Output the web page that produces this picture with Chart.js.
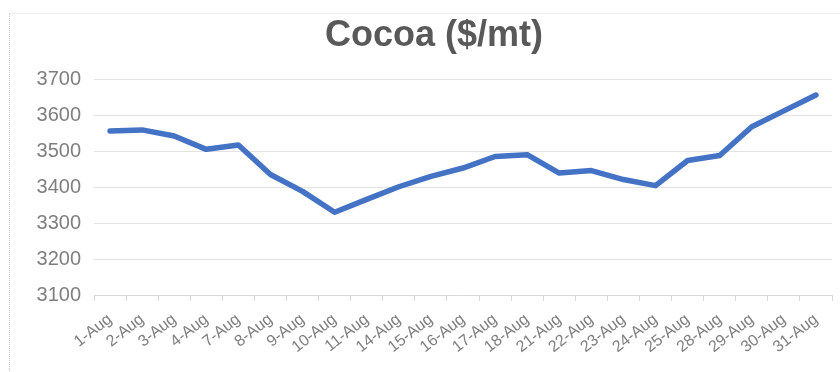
<!DOCTYPE html>
<html>
<head>
<meta charset="utf-8">
<script src="https://cdn.jsdelivr.net/npm/chart.js@4/dist/chart.umd.min.js"></script>
<style>
  html, body { margin: 0; padding: 0; background: #ffffff; }
  #wrap { position: relative; width: 840px; height: 372px; overflow: hidden; }
  #frame { position: absolute; left: 9px; top: 13px; width: 840px; height: 372px;
           border-top: 1px solid #ececec; border-left: 1px dotted #c8c8c8; box-sizing: border-box; }
  canvas { position: absolute; left: 0; top: 0; }
</style>
</head>
<body>
<div id="wrap">
  <div id="frame"></div>
  <canvas id="c" width="840" height="372"></canvas>
</div>
<script>
const categories = ["1-Aug","2-Aug","3-Aug","4-Aug","7-Aug","8-Aug","9-Aug","10-Aug","11-Aug","14-Aug","15-Aug","16-Aug","17-Aug","18-Aug","21-Aug","22-Aug","23-Aug","24-Aug","25-Aug","28-Aug","29-Aug","30-Aug","31-Aug"];
const cocoaPrices = [3556,3559,3542,3505,3517,3435,3388,3330,3366,3401,3430,3453,3485,3490,3439,3446,3421,3404,3474,3488,3568,3612,3656];
const yTicks = [3100,3200,3300,3400,3500,3600,3700];
const titleText = "Cocoa ($/mt)";

new Chart(document.getElementById('c'), {
  type: 'line',
  data: {
    labels: categories,
    datasets: [{
      label: 'Cocoa',
      data: cocoaPrices,
      borderColor: '#4472C4',
      backgroundColor: '#4472C4',
      borderWidth: 5.5,
      pointRadius: 0,
      tension: 0,
      borderJoinStyle: 'round',
      borderCapStyle: 'round',
      fill: false
    }]
  },
  options: {
    responsive: false,
    animation: false,
    layout: { padding: { left: 36, right: 8, top: 14, bottom: 0 } },
    plugins: {
      legend: { display: false },
      tooltip: { enabled: false },
      title: {
        display: true,
        text: titleText,
        color: '#595959',
        font: { family: '"Liberation Sans", Arial, sans-serif', size: 36, weight: 'bold', lineHeight: 1.2 },
        padding: { top: 0, bottom: 22 }
      }
    },
    scales: {
      x: {
        type: 'category',
        offset: true,
        grid: { display: true, drawOnChartArea: false, drawTicks: true, tickLength: 6, color: '#d9d9d9', offset: true },
        border: { display: true, color: '#d9d9d9', width: 1 },
        ticks: {
          color: '#7f7f7f',
          font: { family: '"Liberation Sans", Arial, sans-serif', size: 16 },
          minRotation: 38, maxRotation: 38, autoSkip: false, padding: 9
        },
        afterFit(scale) { scale.height = 77; }
      },
      y: {
        min: 3100, max: 3700,
        afterBuildTicks(scale) { scale.ticks = yTicks.map(v => ({ value: v })); },
        grid: { color: '#e3e3e3', drawTicks: false, lineWidth: 1 },
        border: { display: false },
        ticks: {
          color: '#7f7f7f',
          font: { family: '"Liberation Sans", Arial, sans-serif', size: 20 },
          padding: 13,
          callback: (v) => String(v)
        },
        afterFit(scale) { scale.width = 58; }
      }
    }
  }
});
</script>
</body>
</html>
